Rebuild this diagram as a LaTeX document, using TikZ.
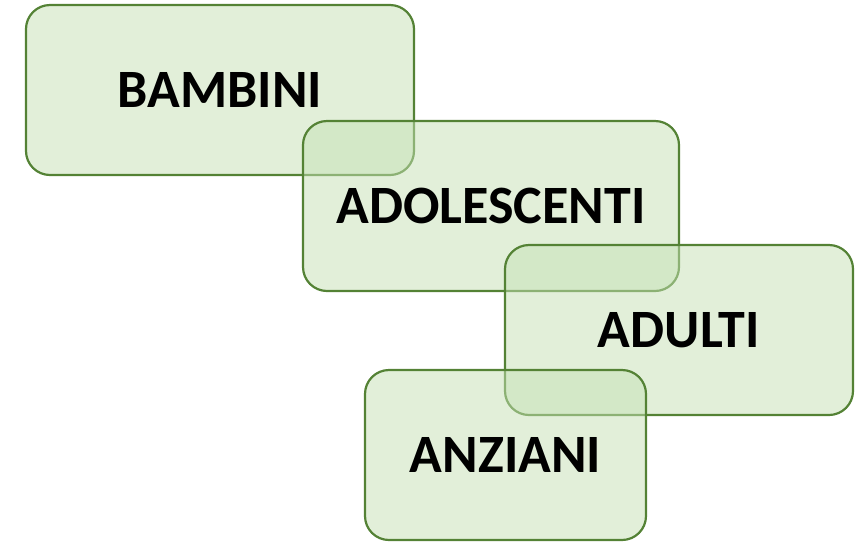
\documentclass[tikz,border=0pt]{standalone}
\usepackage{fontspec}
\setmainfont{Carlito}
\usepackage{tikz}
\definecolor{boxline}{HTML}{548235}
\definecolor{boxfill}{HTML}{C5E0B4}
\tikzset{
	agebox/.style={draw=boxline,line width=2.2pt,fill=boxfill,fill opacity=0.5,text opacity=1,
		rounded corners=24pt,inner sep=0pt,font=\fontsize{54}{60}\selectfont\bfseries}
}

\begin{document}
\begin{tikzpicture}[x=1pt,y=-1pt]
		\useasboundingbox (0,0) rectangle (859,542);
		% age groups, each box laid over the one before
		\node[agebox,minimum width=388pt,minimum height=170pt] (bambini) at (220,90) {BAMBINI};
		\node[agebox,minimum width=376pt,minimum height=170pt] (adolescenti) at (491,206) {ADOLESCENTI};
		\node[agebox,minimum width=348pt,minimum height=170pt] (adulti) at (679,330) {ADULTI};
		\node[agebox,minimum width=281pt,minimum height=170pt] (anziani) at (505.5,455) {ANZIANI};
	\end{tikzpicture}
\end{document}
